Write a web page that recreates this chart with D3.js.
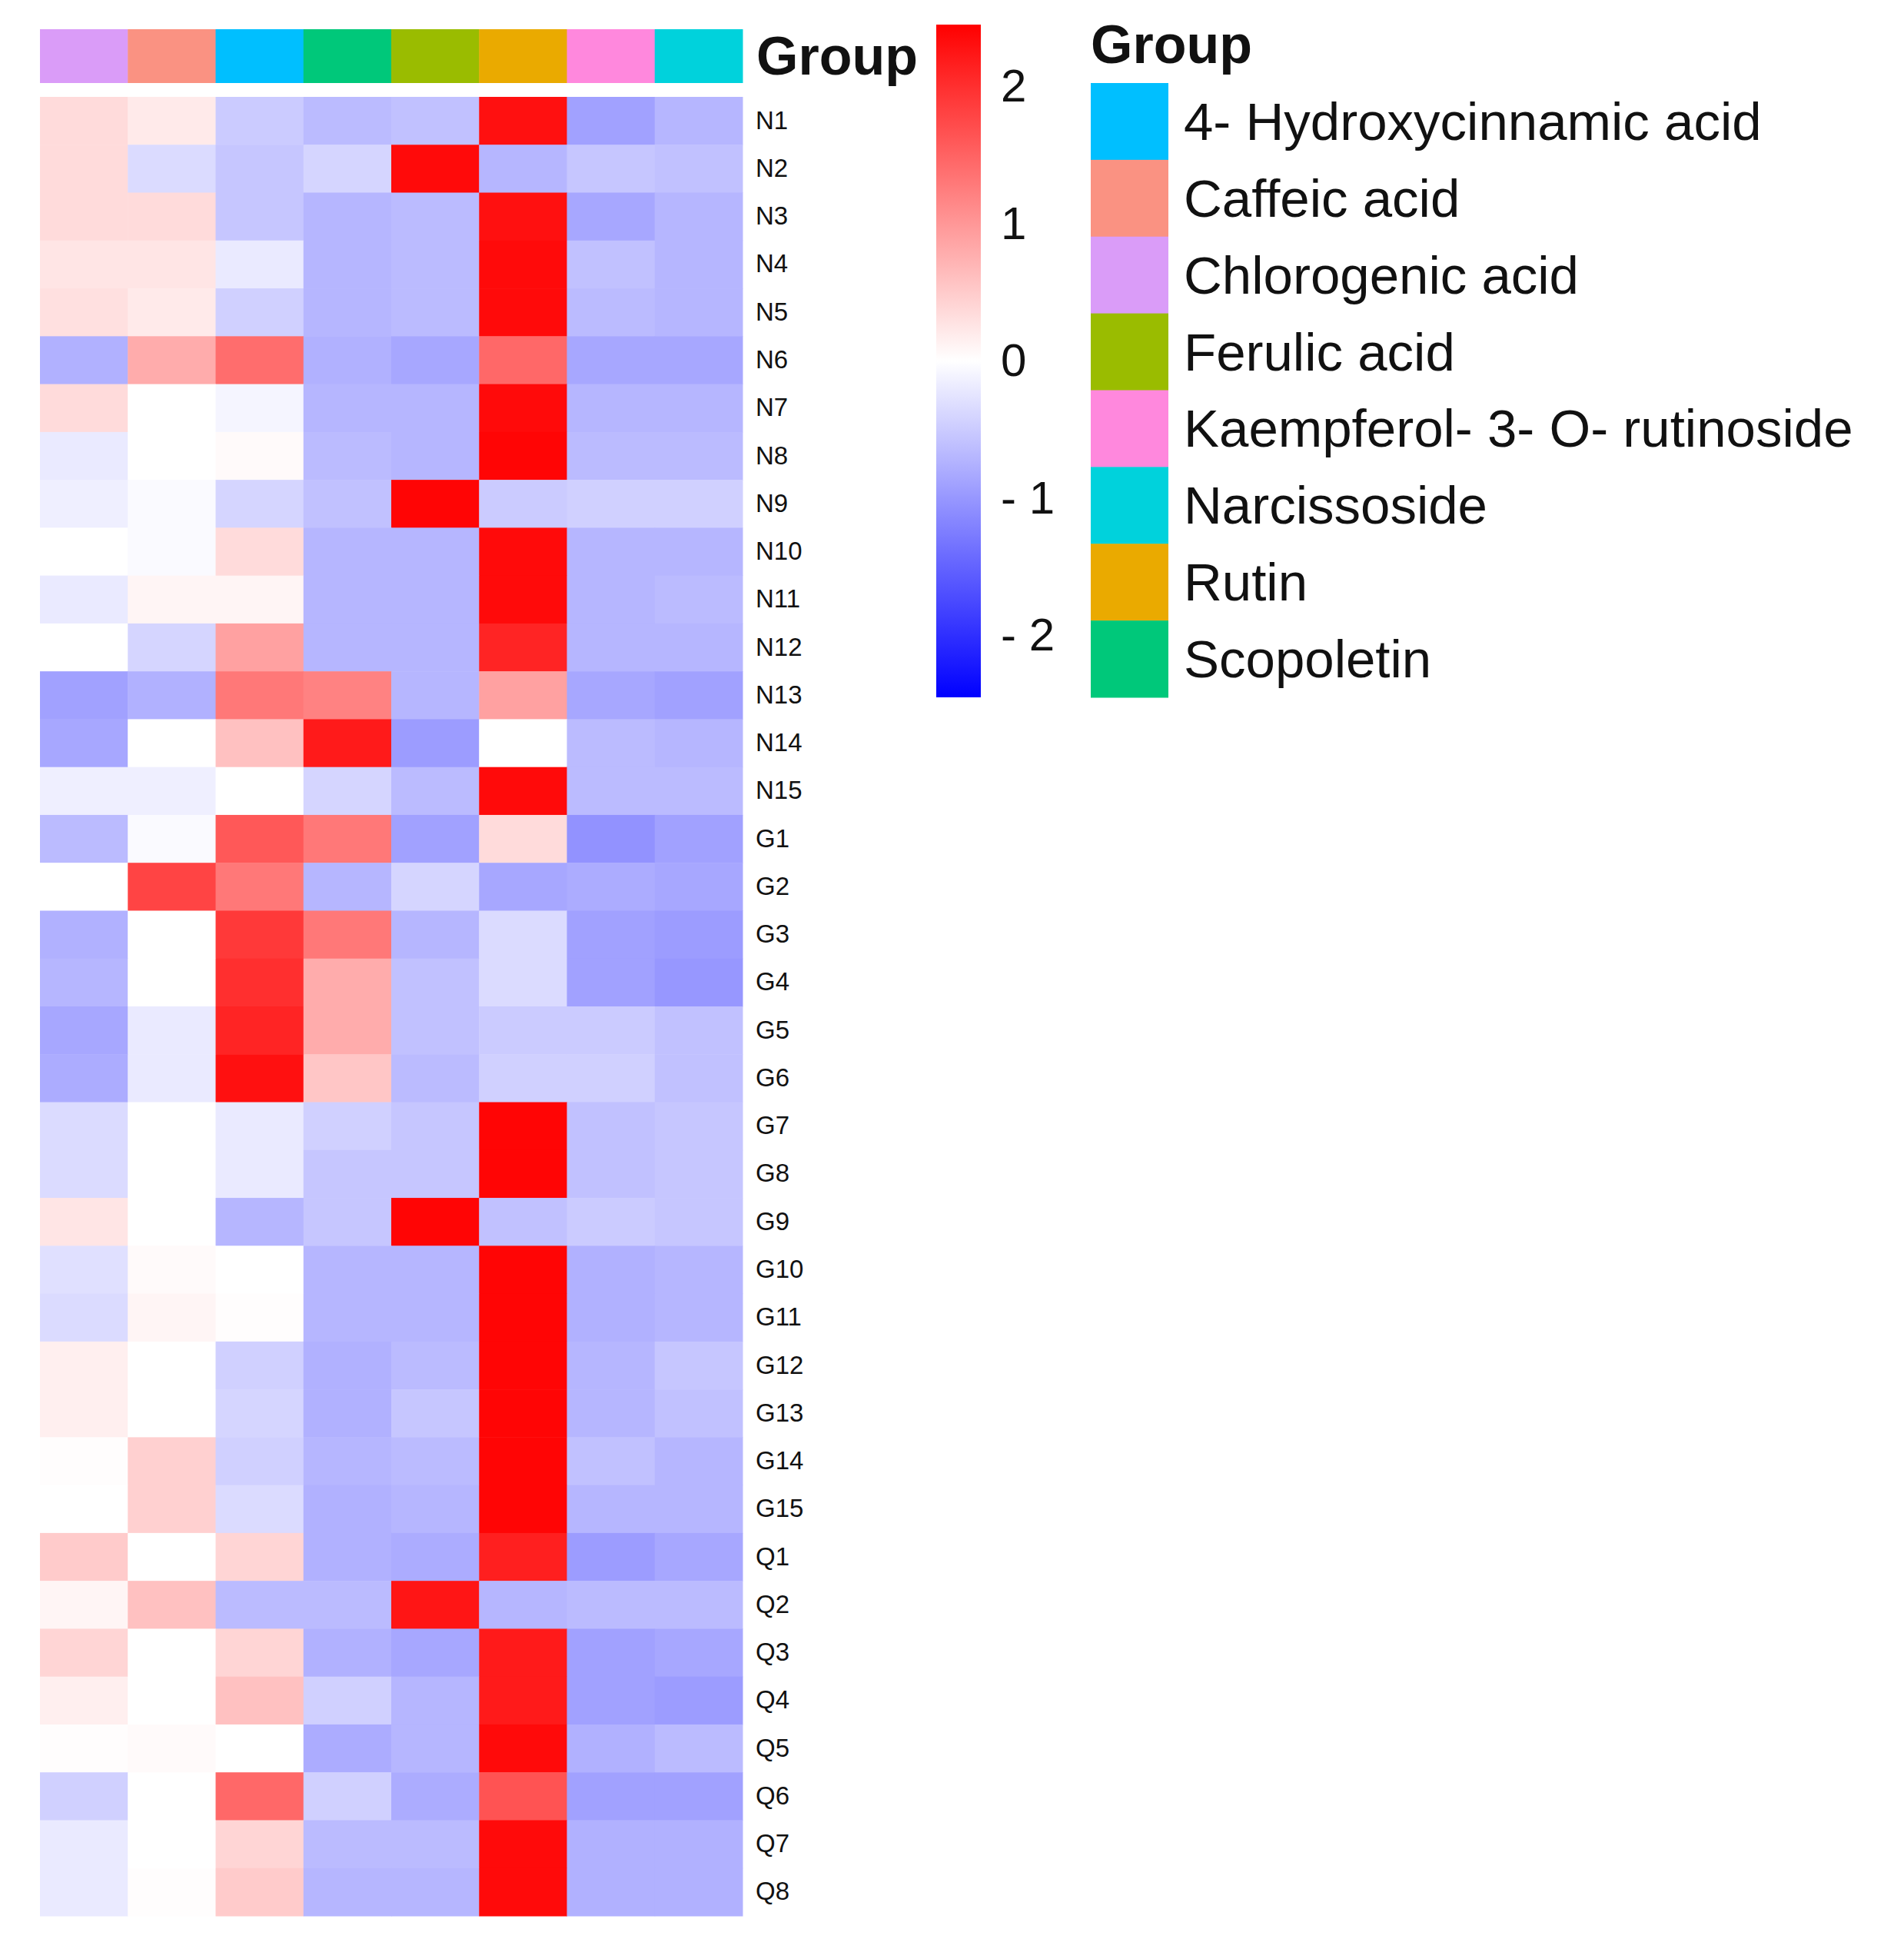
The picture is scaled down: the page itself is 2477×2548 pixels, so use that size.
<!DOCTYPE html>
<html>
<head>
<meta charset="utf-8">
<script src="https://cdn.jsdelivr.net/npm/d3@7"></script>
<style>
  body { margin: 0; background: #ffffff; }
  text { font-family: "Liberation Sans", Arial, sans-serif; fill: #111; }
</style>
</head>
<body>
<div id="chart"></div>
<script>
// column order as drawn in the heatmap
const columns = ['Chlorogenic acid', 'Caffeic acid', '4- Hydroxycinnamic acid', 'Scopoletin',
    'Ferulic acid', 'Rutin', 'Kaempferol- 3- O- rutinoside', 'Narcissoside'];

// legend order (alphabetical, as in the figure)
const legendGroups = ['4- Hydroxycinnamic acid', 'Caffeic acid', 'Chlorogenic acid', 'Ferulic acid',
    'Kaempferol- 3- O- rutinoside', 'Narcissoside', 'Rutin', 'Scopoletin'];

const groupColors = ['#00BFFF', '#FA9282', '#DA9CF8', '#9ABC00', '#FF88DD', '#00D2DC', '#EAAA00', '#00C87A'];

const rowNames = ['N1', 'N2', 'N3', 'N4', 'N5', 'N6', 'N7', 'N8', 'N9', 'N10', 'N11', 'N12', 'N13', 'N14', 'N15',
    'G1', 'G2', 'G3', 'G4', 'G5', 'G6', 'G7', 'G8', 'G9', 'G10', 'G11', 'G12', 'G13', 'G14', 'G15',
    'Q1', 'Q2', 'Q3', 'Q4', 'Q5', 'Q6', 'Q7', 'Q8'];

// z-scores, one row per sample, columns in `columns` order
const nValues = [
    [0.35, 0.2, -0.5, -0.65, -0.6, 2.3, -0.9, -0.7],
    [0.35, -0.35, -0.55, -0.4, 2.35, -0.7, -0.55, -0.6],
    [0.35, 0.35, -0.55, -0.7, -0.65, 2.3, -0.85, -0.7],
    [0.25, 0.25, -0.2, -0.7, -0.65, 2.35, -0.6, -0.7],
    [0.3, 0.2, -0.45, -0.7, -0.65, 2.35, -0.65, -0.7],
    [-0.75, 0.8, 1.4, -0.75, -0.85, 1.45, -0.85, -0.85],
    [0.35, 0.0, -0.1, -0.7, -0.7, 2.35, -0.7, -0.7],
    [-0.2, 0.0, 0.05, -0.65, -0.7, 2.4, -0.65, -0.65],
    [-0.15, -0.05, -0.4, -0.6, 2.4, -0.5, -0.45, -0.45],
    [0.0, -0.05, 0.35, -0.7, -0.7, 2.35, -0.7, -0.7],
    [-0.2, 0.1, 0.1, -0.7, -0.7, 2.35, -0.7, -0.65],
    [0.0, -0.4, 0.9, -0.7, -0.7, 2.1, -0.7, -0.7],
    [-0.9, -0.75, 1.3, 1.2, -0.7, 0.9, -0.85, -0.9],
    [-0.85, 0.0, 0.6, 2.2, -0.95, 0.0, -0.65, -0.7],
    [-0.15, -0.15, 0.0, -0.4, -0.65, 2.35, -0.65, -0.65]
];
const gValues = [
    [-0.65, -0.05, 1.6, 1.3, -0.9, 0.35, -1.05, -0.9],
    [0.0, 1.8, 1.3, -0.7, -0.4, -0.85, -0.8, -0.85],
    [-0.75, 0.0, 1.9, 1.3, -0.7, -0.35, -0.9, -0.95],
    [-0.7, 0.0, 2.0, 0.8, -0.6, -0.35, -0.9, -1.0],
    [-0.85, -0.2, 2.1, 0.8, -0.6, -0.5, -0.5, -0.6],
    [-0.8, -0.2, 2.3, 0.55, -0.65, -0.45, -0.45, -0.6],
    [-0.35, 0.0, -0.2, -0.45, -0.55, 2.4, -0.6, -0.55],
    [-0.35, 0.0, -0.2, -0.55, -0.55, 2.4, -0.6, -0.55],
    [0.25, 0.0, -0.7, -0.55, 2.4, -0.6, -0.5, -0.55],
    [-0.3, 0.05, 0.0, -0.7, -0.7, 2.4, -0.75, -0.7],
    [-0.35, 0.1, 0.02, -0.7, -0.7, 2.4, -0.75, -0.7],
    [0.15, 0.0, -0.45, -0.75, -0.65, 2.4, -0.7, -0.55],
    [0.15, 0.0, -0.4, -0.75, -0.55, 2.4, -0.7, -0.6],
    [0.02, 0.45, -0.45, -0.7, -0.65, 2.4, -0.6, -0.7],
    [0.0, 0.45, -0.35, -0.75, -0.7, 2.4, -0.7, -0.7]
];
const qValues = [
    [0.5, 0.0, 0.4, -0.75, -0.8, 2.15, -0.95, -0.85],
    [0.1, 0.6, -0.65, -0.65, 2.25, -0.7, -0.65, -0.65],
    [0.4, 0.0, 0.4, -0.75, -0.85, 2.2, -0.9, -0.85],
    [0.15, 0.0, 0.6, -0.45, -0.7, 2.2, -0.9, -0.95],
    [0.02, 0.05, 0.0, -0.8, -0.7, 2.35, -0.75, -0.65],
    [-0.45, 0.0, 1.45, -0.45, -0.8, 1.65, -0.9, -0.9],
    [-0.2, 0.0, 0.4, -0.65, -0.65, 2.35, -0.75, -0.75],
    [-0.2, 0.02, 0.5, -0.7, -0.7, 2.35, -0.75, -0.75]
];

const colorTicks = [2, 1, 0, -1, -2];
const colorDomain = [-2.45, 2.45];

const values = nValues.concat(gValues, qValues);
const cells = [];
values.forEach((row, i) => row.forEach((v, j) => cells.push({ row: rowNames[i], col: columns[j], value: v })));

const width = 2477, height = 2548;
const svg = d3.select('#chart').append('svg')
    .attr('width', width)
    .attr('height', height);

svg.append('rect').attr('width', width).attr('height', height).attr('fill', '#fff');

const x = d3.scaleBand().domain(columns).range([52, 966]);
const y = d3.scaleBand().domain(rowNames).range([126, 2492]);
const color = d3.scaleLinear()
    .domain([colorDomain[0], 0, colorDomain[1]])
    .range(['#0000FF', '#FFFFFF', '#FF0000']);
const groupColor = d3.scaleOrdinal().domain(legendGroups).range(groupColors);

// annotation bar
svg.append('g').selectAll('rect')
    .data(columns)
    .join('rect')
    .attr('x', d => x(d))
    .attr('y', 38)
    .attr('width', x.bandwidth() + 0.5)
    .attr('height', 70)
    .attr('fill', d => groupColor(d));

svg.append('text')
    .attr('x', 984)
    .attr('y', 97)
    .attr('font-size', 70)
    .attr('font-weight', 'bold')
    .text('Group');

// heatmap cells
svg.append('g').selectAll('rect')
    .data(cells)
    .join('rect')
    .attr('x', d => x(d.col))
    .attr('y', d => y(d.row))
    .attr('width', x.bandwidth() + 0.5)
    .attr('height', y.bandwidth() + 0.5)
    .attr('fill', d => color(d.value));

// row labels
const rowAxis = svg.append('g')
    .attr('transform', 'translate(966,0)')
    .call(d3.axisRight(y).tickSize(0).tickPadding(17));
rowAxis.select('.domain').remove();
rowAxis.selectAll('text')
    .attr('font-size', 33)
    .attr('font-family', '"Liberation Sans", Arial, sans-serif')
    .attr('fill', '#222');

// colour bar
const barTop = 32, barBottom = 907, barX = 1218, barW = 58;
const defs = svg.append('defs');
const grad = defs.append('linearGradient')
    .attr('id', 'cbar')
    .attr('x1', 0).attr('y1', 1).attr('x2', 0).attr('y2', 0);
d3.range(0, 1.0001, 0.05).forEach(t => {
    grad.append('stop')
        .attr('offset', t)
        .attr('stop-color', color(colorDomain[0] + t * (colorDomain[1] - colorDomain[0])));
});
svg.append('rect')
    .attr('x', barX)
    .attr('y', barTop)
    .attr('width', barW)
    .attr('height', barBottom - barTop)
    .attr('fill', 'url(#cbar)');

const barScale = d3.scaleLinear().domain(colorDomain).range([barBottom, barTop]);
const barAxis = svg.append('g')
    .attr('transform', `translate(${barX + barW},0)`)
    .call(d3.axisRight(barScale).tickValues(colorTicks).tickSize(0).tickPadding(26)
        .tickFormat(d => d < 0 ? '- ' + Math.abs(d) : String(d)));
barAxis.select('.domain').remove();
barAxis.selectAll('text')
    .attr('font-size', 60)
    .attr('font-family', '"Liberation Sans", Arial, sans-serif')
    .attr('fill', '#111');

// legend
const legendY = d3.scaleBand().domain(legendGroups).range([108, 907]);
svg.append('text')
    .attr('x', 1419)
    .attr('y', 82)
    .attr('font-size', 70)
    .attr('font-weight', 'bold')
    .text('Group');

const legend = svg.append('g');
legend.selectAll('rect')
    .data(legendGroups)
    .join('rect')
    .attr('x', 1419)
    .attr('y', d => legendY(d))
    .attr('width', 101)
    .attr('height', legendY.bandwidth() + 0.5)
    .attr('fill', d => groupColor(d));

legend.selectAll('text')
    .data(legendGroups)
    .join('text')
    .attr('x', 1540)
    .attr('y', d => legendY(d) + legendY.bandwidth() / 2 + 24)
    .attr('font-size', 69)
    .text(d => d);
</script>
</body>
</html>
